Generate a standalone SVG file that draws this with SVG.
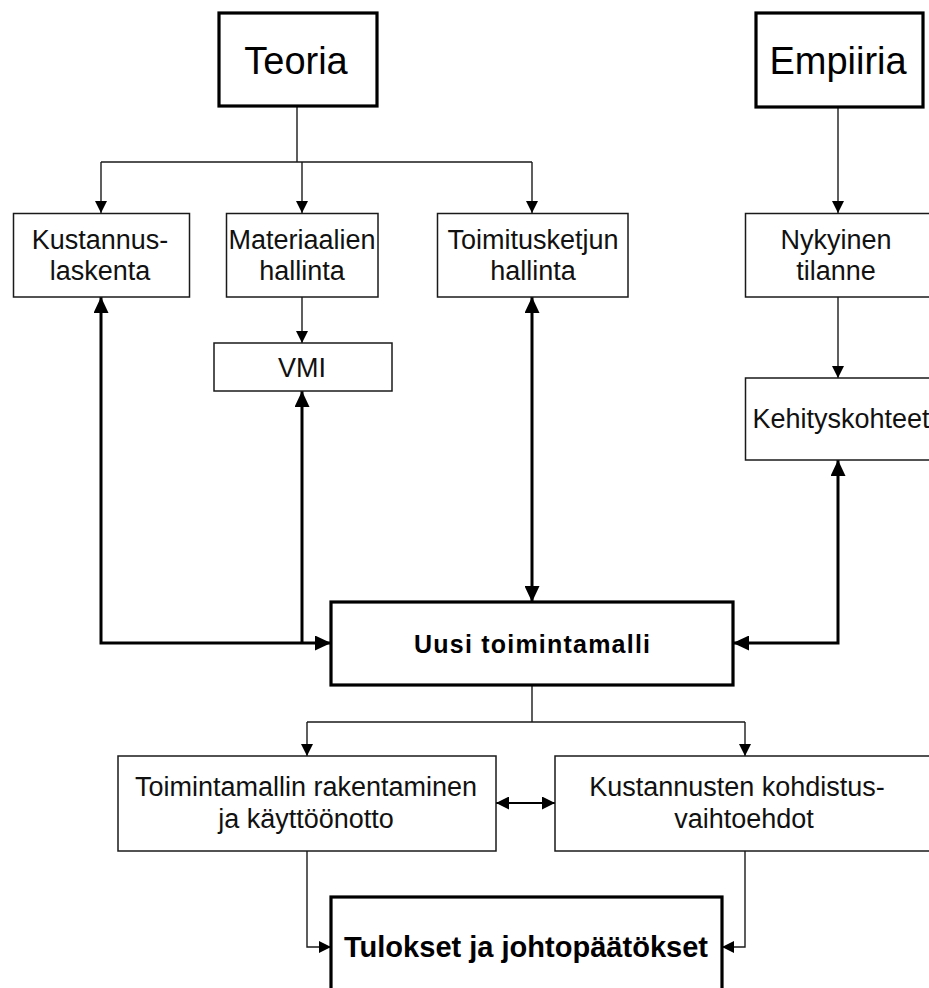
<svg xmlns="http://www.w3.org/2000/svg" width="929" height="988" viewBox="0 0 929 988">
  <style>
    .box { fill: #ffffff; stroke: #1a1a1a; stroke-width: 1.5; }
    .main { fill: #ffffff; stroke: #000000; stroke-width: 3.2; }
    .lbl { font-family: "Liberation Sans", Arial, sans-serif; font-size: 27px; fill: #111111; text-anchor: middle; }
    .title { font-family: "Liberation Sans", Arial, sans-serif; font-size: 38px; fill: #000000; text-anchor: middle; }
    .bold { font-family: "Liberation Sans", Arial, sans-serif; font-weight: bold; fill: #000000; text-anchor: middle; }
    .thin { fill: none; stroke: #1a1a1a; stroke-width: 1.4; }
    .mid { fill: none; stroke: #000000; stroke-width: 2.2; }
    .thick { fill: none; stroke: #000000; stroke-width: 3; }
  </style>
  <defs>
    <marker id="ah" viewBox="0 0 12 12" refX="12" refY="6" markerWidth="12" markerHeight="12" markerUnits="userSpaceOnUse" orient="auto-start-reverse">
      <path d="M0,0 L12,6 L0,12 z" fill="#000000"/>
    </marker>
    <marker id="ahm" viewBox="0 0 13 13" refX="13" refY="6.5" markerWidth="13" markerHeight="13" markerUnits="userSpaceOnUse" orient="auto-start-reverse">
      <path d="M0,0 L13,6.5 L0,13 z" fill="#000000"/>
    </marker>
    <marker id="ahb" viewBox="0 0 16 15" refX="16" refY="7.5" markerWidth="16" markerHeight="15" markerUnits="userSpaceOnUse" orient="auto-start-reverse">
      <path d="M0,0 L16,7.5 L0,15 z" fill="#000000"/>
    </marker>
  </defs>

  <rect width="929" height="988" fill="#ffffff"/>

  <!-- connectors -->
  <g id="connectors">
    <!-- theory branch -->
    <path class="thin" d="M297,106 V162 M101,162 H532"/>
    <path class="thin" d="M101,162 V213" marker-end="url(#ah)"/>
    <path class="thin" d="M302,162 V213" marker-end="url(#ah)"/>
    <path class="thin" d="M532,162 V213" marker-end="url(#ah)"/>
    <path class="thin" d="M302,297 V343" marker-end="url(#ah)"/>
    <!-- empirical branch -->
    <path class="thin" d="M838,107 V213" marker-end="url(#ah)"/>
    <path class="thin" d="M838,297 V378" marker-end="url(#ah)"/>
    <!-- links to the new operating model -->
    <path class="thick" d="M101,297 V643 H331" marker-start="url(#ahb)" marker-end="url(#ahb)"/>
    <path class="thick" d="M302,391 V643" marker-start="url(#ahb)"/>
    <path class="thick" d="M532,297 V602" marker-start="url(#ahb)" marker-end="url(#ahb)"/>
    <path class="thick" d="M838,460 V643 H733" marker-start="url(#ahb)" marker-end="url(#ahb)"/>
    <!-- model branch -->
    <path class="thin" d="M532,685 V722 M307,722 H745"/>
    <path class="thin" d="M307,722 V756" marker-end="url(#ah)"/>
    <path class="thin" d="M745,722 V756" marker-end="url(#ah)"/>
    <path class="mid" d="M496,803 H555" marker-start="url(#ahm)" marker-end="url(#ahm)"/>
    <!-- results -->
    <path class="thin" d="M307,851 V947 H331" marker-end="url(#ah)"/>
    <path class="thin" d="M745,851 V947 H722" marker-end="url(#ah)"/>
  </g>

  <g id="teoria">
    <rect class="main" x="219" y="13" width="158" height="93"/>
    <text class="title" x="296" y="74">Teoria</text>
  </g>

  <g id="empiiria">
    <rect class="main" x="756" y="13" width="167" height="94"/>
    <text class="title" x="838" y="74">Empiiria</text>
  </g>

  <g id="kustannuslaskenta">
    <rect class="box" x="13.5" y="213.5" width="176" height="83.5"/>
    <text class="lbl" x="100" y="249">Kustannus-</text>
    <text class="lbl" x="100" y="280">laskenta</text>
  </g>

  <g id="materiaalien-hallinta">
    <rect class="box" x="226.5" y="213.5" width="151.5" height="83.5"/>
    <text class="lbl" x="302" y="249">Materiaalien</text>
    <text class="lbl" x="302" y="280">hallinta</text>
  </g>

  <g id="toimitusketjun-hallinta">
    <rect class="box" x="437.5" y="213.5" width="190.5" height="83.5"/>
    <text class="lbl" x="533" y="249">Toimitusketjun</text>
    <text class="lbl" x="533" y="280">hallinta</text>
  </g>

  <g id="nykyinen-tilanne">
    <rect class="box" x="745.5" y="213.5" width="200" height="83.5"/>
    <text class="lbl" x="836" y="249">Nykyinen</text>
    <text class="lbl" x="836" y="280">tilanne</text>
  </g>

  <g id="vmi">
    <rect class="box" x="214" y="343" width="178" height="48"/>
    <text class="lbl" x="302" y="377">VMI</text>
  </g>

  <g id="kehityskohteet">
    <rect class="box" x="745.5" y="378" width="200" height="82"/>
    <text class="lbl" x="841" y="428">Kehityskohteet</text>
  </g>

  <g id="uusi-toimintamalli">
    <rect class="main" x="331" y="602" width="402" height="83"/>
    <text class="bold" x="532" y="653" font-size="25" textLength="236" lengthAdjust="spacing">Uusi toimintamalli</text>
  </g>

  <g id="rakentaminen">
    <rect class="box" x="118" y="756" width="378" height="95"/>
    <text class="lbl" x="306" y="796">Toimintamallin rakentaminen</text>
    <text class="lbl" x="306" y="828">ja käyttöönotto</text>
  </g>

  <g id="kohdistus">
    <rect class="box" x="555" y="756" width="400" height="95"/>
    <text class="lbl" x="737" y="796">Kustannusten kohdistus-</text>
    <text class="lbl" x="744" y="828">vaihtoehdot</text>
  </g>

  <g id="tulokset">
    <rect class="main" x="331" y="897" width="391" height="110"/>
    <text class="bold" x="526" y="957" font-size="29" textLength="364" lengthAdjust="spacingAndGlyphs">Tulokset ja johtopäätökset</text>
  </g>
</svg>
